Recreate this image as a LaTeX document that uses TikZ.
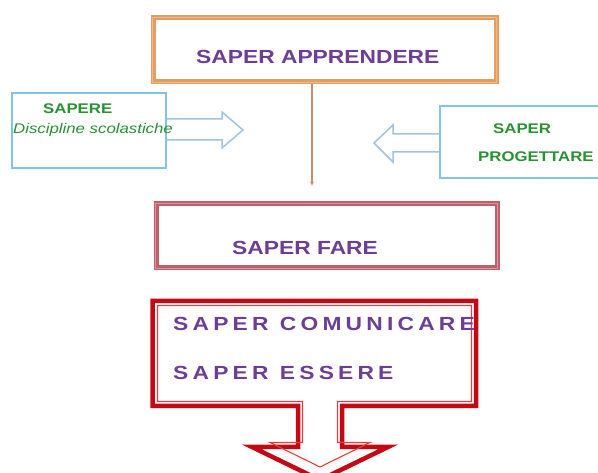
\documentclass[tikz,border=0pt]{standalone}
\usepackage{fontspec}
\setmainfont{Liberation Sans}
\usetikzlibrary{arrows.meta,calc}

\definecolor{purp}{RGB}{108,62,150}
\definecolor{grn}{RGB}{40,145,50}
\definecolor{orng}{RGB}{228,158,98}
\definecolor{orngl}{RGB}{240,185,140}
\definecolor{skyb}{RGB}{130,195,230}
\definecolor{arrb}{RGB}{160,195,225}
\definecolor{rose}{RGB}{190,95,105}
\definecolor{rosel}{RGB}{222,150,158}
\definecolor{dred}{RGB}{195,10,20}
\definecolor{lred}{RGB}{235,60,60}
\definecolor{tanline}{RGB}{200,140,110}

% wide lettering and letter-spaced words
\newcommand{\wide}[1]{\scalebox{1.2}[1]{#1}}
\newcommand{\spc}[1]{\spcstep#1\relax}
\def\spcstep#1{\ifx#1\relax\else#1\kern3.5pt\expandafter\spcstep\fi}

\tikzset{
  ptext/.style={text=purp, font=\fontsize{19}{22}\selectfont\bfseries, inner sep=0pt, anchor=west},
  gtext/.style={text=grn, font=\fontsize{14}{16}\selectfont\bfseries, inner sep=0pt, anchor=west},
  bluebox/.style={draw=skyb, line width=1.5pt, inner sep=0pt},
  blockarrow/.style={draw=arrb, line width=1.5pt, line join=miter},
}

\begin{document}
\begin{tikzpicture}[x=1pt, y=-1pt]
\useasboundingbox (0,0) rectangle (598,473);
\clip (0,0) rectangle (598,473);

% top box: thick band with a lighter inner edge
\node[draw=orng, line width=5pt, minimum width=343pt, minimum height=64pt, inner sep=0pt] (learn) at (324.5,50) {};
\draw[orngl, line width=1.4pt] ($(learn.north west)+(2.2,2.2)$) rectangle ($(learn.south east)+(-2.2,-2.2)$);
\node[ptext] (learnT) at (196,57) {\wide{SAPER APPRENDERE}};

% left box with block arrow
\node[bluebox, minimum width=154pt, minimum height=75pt] (know) at (89,130.5) {};
\node[gtext] (knowT) at (43,109) {\wide{SAPERE}};
\node[text=grn, font=\fontsize{14}{16}\selectfont\itshape, inner sep=0pt, anchor=base west] (knowS) at (13,134) {\wide{Discipline scolastiche}};
\draw[blockarrow] (know.east |- 0,119) -- (222,119) -- (222,112) -- (243,130)
  -- (222,148) -- (222,140) -- (know.east |- 0,140);

% right box with block arrow
\node[bluebox, minimum width=170pt, minimum height=72pt] (plan) at (525,142) {};
\node[gtext] (planA) at (493,129) {\wide{SAPER}};
\node[gtext] (planB) at (478,156.5) {\wide{PROGETTARE}};
\draw[blockarrow] (plan.west |- 0,134) -- (393,134) -- (393,125) -- (374,143)
  -- (393,162) -- (393,152) -- (plan.west |- 0,152);

% middle box
\node[draw=rose, line width=5pt, minimum width=341pt, minimum height=64pt, inner sep=0pt] (do) at (326.5,236) {};
\draw[rosel, line width=1.4pt] ($(do.north west)+(2.2,2.2)$) rectangle ($(do.south east)+(-2.2,-2.2)$);
\node[ptext] (doT) at (232,248) {\wide{SAPER FARE}};

% connector from the top box towards the middle box
\coordinate (lineend) at (312,186);
\draw[tanline, line width=1.6pt, -{Latex[length=4pt,width=4pt]}] (lineend |- learn.south) -- (lineend);

% bottom callout with down arrow: thick outer line, thin inner line
\draw[dred, line width=4.5pt, line join=miter]
  (152.5,301) -- (476,301) -- (476,406) -- (342,406) -- (342,447) -- (388,447)
  -- (320,480) -- (252,447) -- (298,447) -- (298,406) -- (152.5,406) -- cycle;
\draw[lred, line width=1.1pt, line join=miter]
  (157.5,305.5) -- (471.5,305.5) -- (471.5,401.5) -- (337.5,401.5) -- (337.5,442.5) -- (370,442.5)
  -- (320,467) -- (270,442.5) -- (302.5,442.5) -- (302.5,401.5) -- (157.5,401.5) -- cycle;
\node[ptext] (comT) at (173,324) {\wide{\spc{SAPER}\hspace{6pt}\spc{COMUNICARE}}};
\node[ptext] (beT) at (173,373) {\wide{\spc{SAPER}\hspace{6pt}\spc{ESSERE}}};
\end{tikzpicture}
\end{document}
